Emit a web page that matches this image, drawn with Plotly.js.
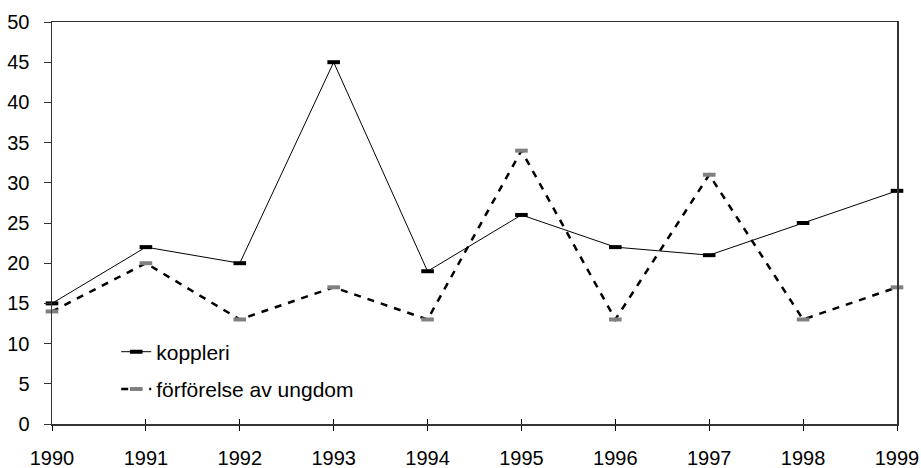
<!DOCTYPE html>
<html>
<head>
<meta charset="utf-8">
<script src="https://cdn.plot.ly/plotly-3.0.1.min.js"></script>
<style>html,body{margin:0;padding:0;background:#fff;}#chart{width:921px;height:468px;}</style>
</head>
<body>
<div id="chart"></div>
<script>
const years = [1990, 1991, 1992, 1993, 1994, 1995, 1996, 1997, 1998, 1999];
const koppleri = [15, 22, 20, 45, 19, 26, 22, 21, 25, 29];
const forforelse = [14, 20, 13, 17, 13, 34, 13, 31, 13, 17];
const seriesNames = ["koppleri", "förförelse av ungdom"];

const traces = [
  {
    x: years, y: koppleri, name: seriesNames[0], type: "scatter", mode: "lines+markers",
    legendgroup: "a", cliponaxis: false,
    line: {color: "#000000", width: 1},
    marker: {symbol: "line-ew", size: 9, color: "#000000", line: {color: "#000000", width: 4}}
  },
  {
    x: years, y: forforelse, name: seriesNames[1], type: "scatter", mode: "lines+markers",
    legendgroup: "b", cliponaxis: false,
    line: {color: "#000000", width: 2.5, dash: "7px,7px"},
    marker: {symbol: "line-ew", size: 9, color: "#808080", line: {color: "#808080", width: 4}}
  },
  {
    x: years, y: koppleri, xaxis: "x2", yaxis: "y", showlegend: false, hoverinfo: "skip",
    type: "scatter", mode: "none"
  }
];

const layout = {
  width: 921, height: 468,
  margin: {l: 52, r: 24, t: 22, b: 44},
  paper_bgcolor: "#ffffff", plot_bgcolor: "#ffffff",
  font: {family: "Liberation Sans, Arial, sans-serif", size: 20, color: "#000000"},
  showlegend: true,
  legend: {x: 0.076, y: 0.23, xanchor: "left", yanchor: "top", bgcolor: "rgba(0,0,0,0)",
           font: {size: 21}, traceorder: "grouped", tracegroupgap: 7},
  xaxis: {
    range: [1990, 1999], tickvals: years, ticktext: years.map(String),
    showgrid: false, zeroline: false, showline: true, linecolor: "#333333", linewidth: 1.5,
    mirror: true, ticks: "outside", ticklen: 5, tickcolor: "#000000", tickwidth: 1,
    ticklabelstandoff: 10, tickfont: {size: 20}
  },
  xaxis2: {
    overlaying: "x", range: [1990, 1999], tickvals: years, showticklabels: false,
    showgrid: false, zeroline: false, showline: false, ticks: "inside", ticklen: 5,
    tickcolor: "#000000", tickwidth: 1, side: "bottom"
  },
  yaxis: {
    range: [0, 50], dtick: 5, tick0: 0,
    showgrid: false, zeroline: false, showline: true, linecolor: "#333333", linewidth: 1.5,
    mirror: true, ticks: "outside", ticklen: 7, tickcolor: "#333333", tickwidth: 1,
    ticklabelstandoff: 10, tickfont: {size: 20}
  }
};

Plotly.newPlot("chart", traces, layout, {displayModeBar: false, staticPlot: true});
</script>
</body>
</html>
